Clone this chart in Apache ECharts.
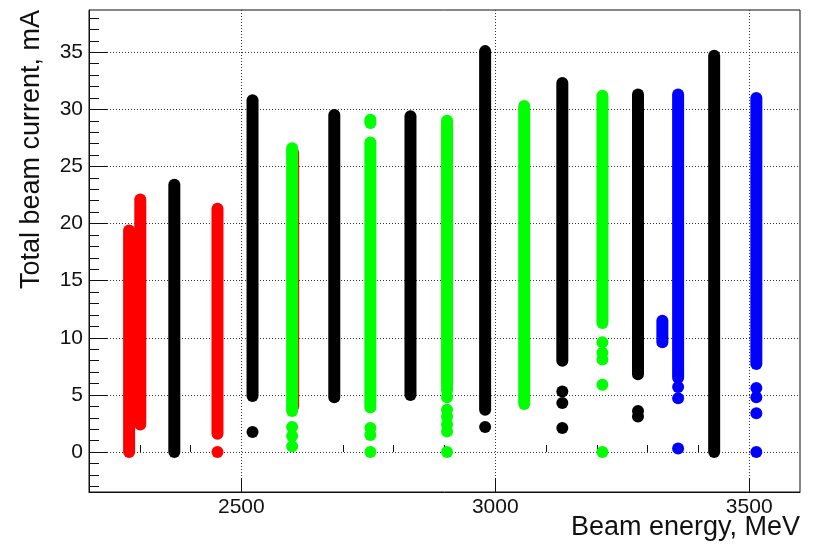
<!DOCTYPE html>
<html>
<head>
<meta charset="utf-8">
<script src="https://cdn.jsdelivr.net/npm/echarts@6/dist/echarts.min.js"></script>
<style>
html,body{margin:0;padding:0;background:#fff;}
#chart{width:813px;height:545px;}
</style>
</head>
<body>
<div id="chart"></div>
<script>
// ---- data (energy MeV, current mA) ----
// continuous runs: [energy, lowest current, highest current]
const redBands = [[2279, 0, 19.4], [2301, 2.4, 22.1], [2453, 1.6, 21.3], [2602, 4.0, 26.2]];
const redDots = [[2453, 0]];
const blackBands = [[2368, 0, 23.4], [2522, 4.9, 30.8], [2683, 4.8, 29.5], [2833, 5.0, 29.4],
  [2980, 3.7, 35.1], [3132, 8.0, 32.3], [3281, 6.8, 31.3], [3431, 0, 34.7]];
const blackDots = [[2522, 1.75], [2980, 2.2], [3132, 5.3], [3132, 4.3], [3132, 2.1], [3281, 3.6], [3281, 3.1]];
const greenBands = [[2600, 3.6, 26.6], [2754, 3.9, 27.1], [2754, 28.8, 29.1], [2905, 5.4, 29.0],
  [3057, 4.2, 30.3], [3211, 11.3, 31.2]];
const greenDots = [[2600, 2.2], [2600, 1.4], [2600, 0.5], [2754, 2.1], [2754, 1.5], [2754, 0],
  [2905, 4.8], [2905, 3.7], [2905, 3.1], [2905, 2.4], [2905, 1.8], [2905, 0],
  [3211, 9.6], [3211, 8.7], [3211, 8.1], [3211, 5.9], [3211, 0]];
const blueBands = [[3329, 9.6, 11.5], [3360, 6.5, 31.3], [3514, 7.7, 31.0]];
const blueDots = [[3360, 5.7], [3360, 4.7], [3360, 0.3], [3514, 5.6], [3514, 4.8], [3514, 3.4], [3514, 0]];

// ---- axis ticks ----
const xMajorTicks = [2500, 3000, 3500];
const xMinorTicks = [2300, 2400, 2600, 2700, 2800, 2900, 3100, 3200, 3300, 3400];
const yMajorTicks = [0, 5, 10, 15, 20, 25, 30, 35];
const yMinorTicks = [-3, -2, -1, 1, 2, 3, 4, 6, 7, 8, 9, 11, 12, 13, 14, 16, 17, 18, 19,
  21, 22, 23, 24, 26, 27, 28, 29, 31, 32, 33, 34, 36, 37, 38];
const xTitle = 'Beam energy, MeV';
const yTitle = 'Total beam current, mA';

// ---- drawing ----
const DOT = 12;
const FONT = '"Liberation Sans", Arial, Helvetica, sans-serif';

function bandItem(params, api) {
  const top = api.coord([api.value(0), api.value(2)]);
  const bot = api.coord([api.value(0), api.value(1)]);
  return {
    type: 'rect',
    shape: { x: top[0] - DOT / 2, y: top[1] - DOT / 2, width: DOT, height: bot[1] - top[1] + DOT, r: DOT / 2 },
    style: { fill: api.visual('color') }
  };
}
function bands(data, color) {
  return { type: 'custom', renderItem: bandItem, data: data, itemStyle: { color: color },
    encode: { x: 0, y: [1, 2] }, silent: true, animation: false };
}
function dots(data, color) {
  return { type: 'scatter', data: data, symbol: 'circle', symbolSize: DOT,
    itemStyle: { color: color, opacity: 1 }, silent: true, animation: false };
}
const plain = function (v) { return String(v); };

const gridStyle = { show: true, lineStyle: { color: '#333', width: 1, type: [1, 2] } };

const option = {
  backgroundColor: '#fff',
  animation: false,
  grid: { left: 89, right: 13, top: 10, bottom: 53, show: true, borderColor: '#111', borderWidth: 1,
    backgroundColor: 'transparent', containLabel: false, outerBoundsMode: 'none' },
  xAxis: [
    { type: 'value', min: 2200, max: 3600, position: 'bottom',
      axisLine: { show: true, onZero: false, lineStyle: { color: '#111', width: 1 } },
      axisTick: { show: true, inside: true, length: 14, customValues: xMajorTicks, lineStyle: { color: '#111' } },
      axisLabel: { show: true, customValues: xMajorTicks, formatter: plain, fontSize: 21, color: '#111', fontFamily: FONT, margin: 5 },
      splitLine: gridStyle, minorTick: { show: false } },
    { type: 'value', min: 2200, max: 3600, position: 'bottom',
      axisLine: { show: false },
      axisTick: { show: true, inside: true, length: 7, customValues: xMinorTicks, lineStyle: { color: '#111' } },
      axisLabel: { show: false }, splitLine: { show: false } }
  ],
  yAxis: [
    { type: 'value', min: -3.5, max: 38.7, position: 'left',
      axisLine: { show: true, onZero: false, lineStyle: { color: '#111', width: 1 } },
      axisTick: { show: true, inside: true, length: 19, customValues: yMajorTicks, lineStyle: { color: '#111' } },
      axisLabel: { show: true, customValues: yMajorTicks, formatter: plain, fontSize: 21, color: '#111', fontFamily: FONT, margin: 6 },
      splitLine: gridStyle },
    { type: 'value', min: -3.5, max: 38.7, position: 'left',
      axisLine: { show: false },
      axisTick: { show: true, inside: true, length: 10, customValues: yMinorTicks, lineStyle: { color: '#111' } },
      axisLabel: { show: false }, splitLine: { show: false } }
  ],
  graphic: [
    { type: 'text', x: 800, y: 528, silent: true,
      style: { text: xTitle, fontSize: 27, fontFamily: FONT, fill: '#111', align: 'right', verticalAlign: 'middle' } },
    { type: 'text', x: 32, y: 10, rotation: Math.PI / 2, silent: true,
      style: { text: yTitle, fontSize: 27, fontFamily: FONT, fill: '#111', align: 'right', verticalAlign: 'middle' } }
  ],
  series: [
    bands(redBands, '#ff0000'), dots(redDots, '#ff0000'),
    bands(blackBands, '#000000'), dots(blackDots, '#000000'),
    bands(greenBands, '#00ff00'), dots(greenDots, '#00ff00'),
    bands(blueBands, '#0000ff'), dots(blueDots, '#0000ff')
  ]
};

const chart = echarts.init(document.getElementById('chart'), null, { renderer: 'canvas' });
chart.setOption(option);
</script>
</body>
</html>
